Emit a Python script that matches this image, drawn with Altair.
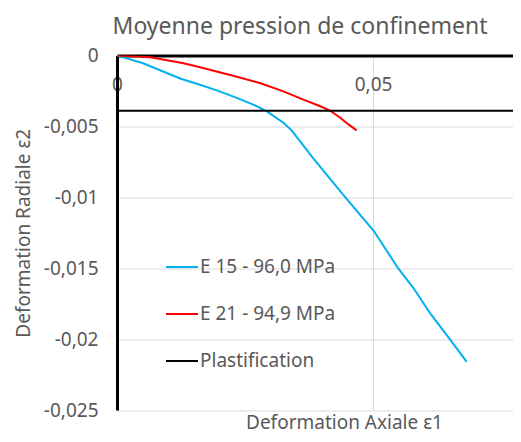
import altair as alt
import pandas as pd

# Series
e15_x = [0, 0.0051, 0.0090, 0.0126, 0.0162, 0.0195, 0.0234, 0.0266, 0.0292, 0.0325,
         0.0341, 0.0383, 0.0423, 0.0455, 0.0501, 0.0549, 0.0579, 0.0611, 0.0650, 0.0683]
e15_y = [0, -0.00055, -0.00113, -0.00166, -0.00206, -0.00246, -0.00299, -0.00346, -0.00393, -0.00474,
         -0.00528, -0.00724, -0.0090, -0.0104, -0.01234, -0.0150, -0.0164, -0.01815, -0.0200, -0.0216]

e21_x = [0, 0.0065, 0.0130, 0.0162, 0.0227, 0.0279, 0.0325, 0.0364, 0.0397, 0.0416, 0.0436, 0.0452, 0.0468]
e21_y = [0, -0.00013, -0.00055, -0.00083, -0.00143, -0.00194, -0.00253, -0.00311, -0.00358, -0.00388,
         -0.00439, -0.00486, -0.00528]

plast_x = [0, 0.08]
plast_y = [-0.0039, -0.0039]

series_names = ["E 15 - 96,0 MPa", "E 21 - 94,9 MPa", "Plastification"]
series_colors = ["#00B0F0", "#FF0000", "#000000"]

x_ticks = [0, 0.05]
y_ticks = [0, -0.005, -0.01, -0.015, -0.02, -0.025]

rows = []
for name, xs, ys in zip(series_names, [e15_x, e21_x, plast_x], [e15_y, e21_y, plast_y]):
    for i, (a, b) in enumerate(zip(xs, ys)):
        rows.append({"serie": name, "x": a, "y": b, "i": i})
df = pd.DataFrame(rows)

FONT = "Noto Sans"
GRAY = "#595959"
W, H = 396, 354.5

chart = alt.Chart(df).mark_line(strokeWidth=2, clip=True).encode(
    x=alt.X("x:Q",
            scale=alt.Scale(domain=[0, 0.07734], nice=False, zero=False),
            axis=alt.Axis(orient="top", values=x_ticks,
                          labelExpr="replace(datum.value + '', '.', ',')",
                          ticks=False, tickSize=0, labelPadding=-28.5, labelBaseline="middle",
                          labelFlush=False, labelOverlap=False,
                          labelFontSize=19, labelColor=GRAY, labelFont=FONT,
                          domainColor="black", domainWidth=3,
                          gridColor="#D9D9D9", gridWidth=1,
                          title="Deformation Axiale ε1", titleX=227, titleY=367,
                          titleBaseline="middle", titleFontSize=19, titleFontWeight="normal",
                          titleColor=GRAY, titleFont=FONT)),
    y=alt.Y("y:Q",
            scale=alt.Scale(domain=[-0.025, 0], nice=False, zero=False),
            axis=alt.Axis(values=y_ticks,
                          labelExpr="replace(datum.value + '', '.', ',')",
                          ticks=False, labelPadding=19, labelFontSize=19, labelColor=GRAY,
                          labelFont=FONT, labelOverlap=False, labelFlush=False,
                          domainColor="black", domainWidth=3,
                          gridColor="#D9D9D9", gridWidth=1,
                          title="Deformation Radiale ε2", titleX=-94, titleY=H / 2,
                          titleBaseline="middle", titleFontSize=19, titleFontWeight="normal",
                          titleColor=GRAY, titleFont=FONT)),
    color=alt.Color("serie:N",
                    scale=alt.Scale(domain=series_names, range=series_colors),
                    legend=alt.Legend(title=None, orient="none", legendX=48, legendY=194.5,
                                      symbolType="stroke", symbolSize=1024, symbolStrokeWidth=2,
                                      labelFontSize=19, labelColor=GRAY, labelFont=FONT,
                                      labelOffset=1, rowPadding=20, padding=0)),
    order=alt.Order("i:Q"),
).properties(
    width=W, height=H,
    title=alt.TitleParams("Moyenne pression de confinement", fontSize=23, color=GRAY,
                          font=FONT, fontWeight="normal", anchor="middle", dx=-15,
                          baseline="top", offset=8, frame="group"),
    autosize=alt.AutoSizeParams(type="none"),
    padding={"left": 109, "top": 47.5, "right": 0, "bottom": 24},
).configure_view(stroke=None)

chart.save("out.html", embed_options={"renderer": "svg", "actions": False})
